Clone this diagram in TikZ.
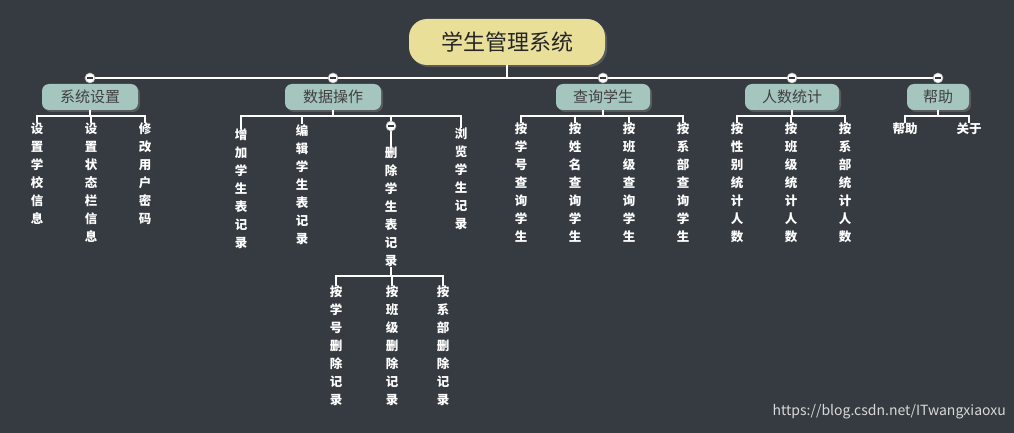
\documentclass[tikz,border=0pt]{standalone}
\usepackage{fontspec}
\setmainfont{Noto Sans CJK SC}
\usetikzlibrary{shadows}
\definecolor{bg}{HTML}{353B40}
\definecolor{rootc}{HTML}{E9DF98}
\definecolor{brc}{HTML}{A5C5BF}
\tikzset{
  x=1pt,y=-1pt,
  root/.style={fill=rootc,rounded corners=18pt,minimum width=196pt,minimum height=46pt,font=\fontsize{22}{24}\selectfont,text=black!85,drop shadow={opacity=0.45,shadow xshift=2pt,shadow yshift=-2pt}},
  br/.style={fill=brc,rounded corners=7pt,minimum height=26pt,font=\fontsize{15}{17}\selectfont,text=black!75,drop shadow={opacity=0.45,shadow xshift=2pt,shadow yshift=-2pt}},
  leaf/.style={anchor=north,align=center,inner sep=0pt,text=white,font=\bfseries\fontsize{12.5}{18}\selectfont},
  hleaf/.style={anchor=north,inner sep=0pt,text=white,font=\bfseries\fontsize{12.5}{14}\selectfont},
  ln/.style={draw=white,line width=2.2pt},
  tn/.style={draw=white,line width=1.6pt},
  knob/.style={circle,fill=white,draw=gray!60,line width=0.6pt,minimum size=10pt,inner sep=0pt,path picture={\draw[bg,line width=1.6pt] ([xshift=-3pt]path picture bounding box.center)--([xshift=3pt]path picture bounding box.center);}}
}
\begin{document}
\begin{tikzpicture}
\fill[bg] (0,0) rectangle (1014,433);
\useasboundingbox (0,0) rectangle (1014,433);
% main bar
\coordinate (bl) at (90,78); \coordinate (brr) at (938,78);
\node[root] (R) at (507,42) {学生管理系统};
\draw[ln] (bl) -- (brr);
\draw[ln] (R.south) -- (R.south|-bl);
% branches
\node[br,minimum width=96pt] (b1) at (90,97) {系统设置};
\node[br,minimum width=96pt] (b2) at (333,97) {数据操作};
\node[br,minimum width=94pt] (b3) at (603,97) {查询学生};
\node[br,minimum width=94pt] (b4) at (792,97) {人数统计};
\node[br,minimum width=62pt] (b5) at (938,97) {帮助};
\foreach \b in {b1,b2,b3,b4,b5}{\node[knob] at (\b.center|-bl) {};}
% branch 1
\node[leaf] (l11) at (37,123) {设\\置\\学\\校\\信\\息};
\node[leaf] (l12) at (91,123) {设\\置\\状\\态\\栏\\信\\息};
\node[leaf] (l13) at (145,123) {修\\改\\用\\户\\密\\码};
\draw[tn] (b1.south) -- (b1.south|-{0,116});
\draw[tn] (l11.north) -- (l11.north|-{0,116}) -- (l13.north|-{0,116}) -- (l13.north);
\draw[tn] (l12.north) -- (l12.north|-{0,116});
% branch 2
\node[leaf] (l21) at (241,129) {增\\加\\学\\生\\表\\记\\录};
\node[leaf] (l22) at (302,124) {编\\辑\\学\\生\\表\\记\\录};
\node[leaf] (l23) at (391,147) {删\\除\\学\\生\\表\\记\\录};
\node[leaf] (l24) at (461,128) {浏\\览\\学\\生\\记\\录};
\draw[tn] (b2.south) -- (b2.south|-{0,116});
\draw[tn] (l21.north) -- (l21.north|-{0,116}) -- (l24.north|-{0,116}) -- (l24.north);
\draw[tn] (l22.north) -- (l22.north|-{0,116});
\draw[tn] (l23.north) -- (l23.north|-{0,116});
\node[knob] at (391,126) {};
% sub of delete
\node[leaf] (s1) at (336,286) {按\\学\\号\\删\\除\\记\\录};
\node[leaf] (s2) at (392,286) {按\\班\\级\\删\\除\\记\\录};
\node[leaf] (s3) at (443,286) {按\\系\\部\\删\\除\\记\\录};
\draw[tn] (l23.south) -- (l23.south|-{0,276});
\draw[tn] (s1.north) -- (s1.north|-{0,276}) -- (s3.north|-{0,276}) -- (s3.north);
\draw[tn] (s2.north) -- (s2.north|-{0,276});
% branch 3
\node[leaf] (l31) at (521,123) {按\\学\\号\\查\\询\\学\\生};
\node[leaf] (l32) at (575,123) {按\\姓\\名\\查\\询\\学\\生};
\node[leaf] (l33) at (629,123) {按\\班\\级\\查\\询\\学\\生};
\node[leaf] (l34) at (683,123) {按\\系\\部\\查\\询\\学\\生};
\draw[tn] (b3.south) -- (b3.south|-{0,116});
\draw[tn] (l31.north) -- (l31.north|-{0,116}) -- (l34.north|-{0,116}) -- (l34.north);
\draw[tn] (l32.north) -- (l32.north|-{0,116});
\draw[tn] (l33.north) -- (l33.north|-{0,116});
% branch 4
\node[leaf] (l41) at (737,123) {按\\性\\别\\统\\计\\人\\数};
\node[leaf] (l42) at (791,123) {按\\班\\级\\统\\计\\人\\数};
\node[leaf] (l43) at (845,123) {按\\系\\部\\统\\计\\人\\数};
\draw[tn] (b4.south) -- (b4.south|-{0,116});
\draw[tn] (l41.north) -- (l41.north|-{0,116}) -- (l43.north|-{0,116}) -- (l43.north);
\draw[tn] (l42.north) -- (l42.north|-{0,116});
% branch 5
\node[hleaf] (l51) at (905,123) {帮助};
\node[hleaf] (l52) at (969,123) {关于};
\draw[tn] (b5.south) -- (b5.south|-{0,116});
\draw[tn] (l51.north) -- (l51.north|-{0,116}) -- (l52.north|-{0,116}) -- (l52.north);
\node[text=white!80!bg,font=\fontsize{14}{16}\selectfont,anchor=east,inner sep=0pt] (wm) at (1006,412) {https://blog.csdn.net/ITwangxiaoxu};
\end{tikzpicture}
\end{document}
